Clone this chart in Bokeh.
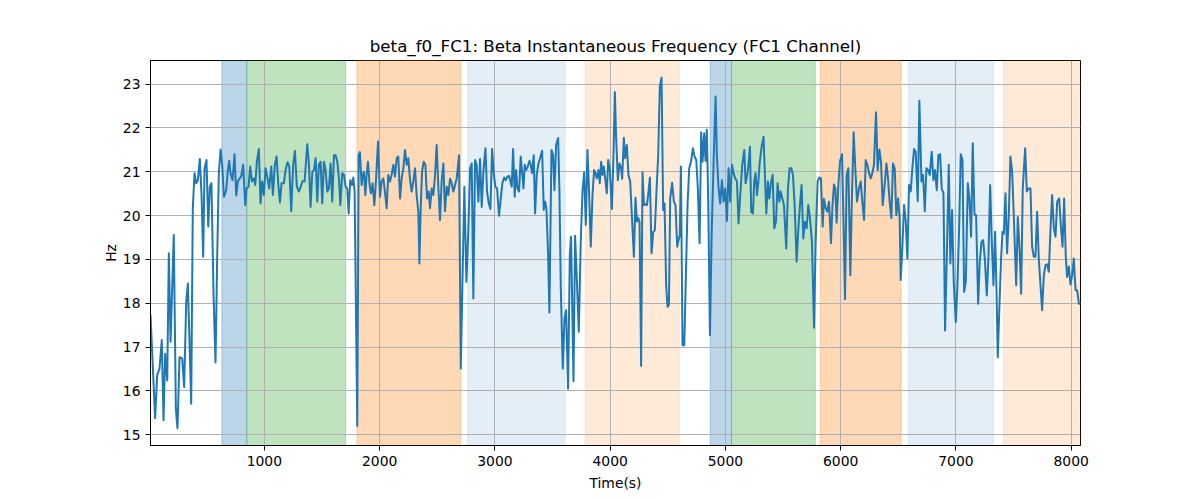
from bokeh.plotting import figure
from bokeh.models import Range1d, BoxAnnotation, FixedTicker
from bokeh.embed import file_html
from bokeh.resources import INLINE

# ---- data ----
times = [
    12, 52, 70, 90, 110, 125, 139, 157, 171, 186,
    214, 232, 246, 264, 287, 304, 322, 336, 350, 365,
    379, 394, 408, 423, 440, 455, 469, 481, 498, 513,
    527, 541, 559, 576, 591, 605, 620, 634, 649, 669,
    683, 695, 706, 724, 741, 756, 770, 785, 799, 816,
    834, 845, 863, 877, 892, 909, 921, 935, 952, 967,
    981, 996, 1010, 1025, 1042, 1060, 1074, 1091, 1106, 1120,
    1135, 1149, 1169, 1184, 1201, 1216, 1233, 1250, 1265, 1282,
    1300,
    1332, 1349, 1372, 1387, 1401, 1416, 1430, 1445, 1459, 1473,
    1488, 1502, 1517, 1531, 1546, 1560, 1575, 1589, 1604, 1618,
    1633, 1647, 1659, 1676, 1691, 1705, 1719, 1731, 1745, 1760,
    1772, 1783, 1806, 1818, 1829, 1844, 1853, 1864, 1876, 1887,
    1899, 1913, 1925, 1939, 1954, 1968, 1986, 2003, 2017, 2032,
    2046, 2061, 2075, 2090, 2104, 2119, 2133, 2148, 2162, 2177,
    2191, 2206, 2220, 2235, 2249, 2264, 2278, 2292, 2307, 2321,
    2336, 2345, 2356, 2368, 2382, 2397, 2411, 2426, 2437, 2452,
    2466, 2481, 2495, 2510, 2524, 2538, 2553, 2567, 2582, 2596,
    2611, 2625, 2640,
    2654, 2669, 2689, 2704, 2735, 2753, 2770, 2785, 2799, 2813,
    2828, 2842, 2857, 2871, 2886, 2900, 2918, 2932, 2947, 2961,
    2976, 2990, 3004, 3019, 3036, 3051, 3065, 3080, 3094, 3109,
    3123, 3138, 3146, 3158, 3172, 3184, 3196, 3210, 3224, 3236,
    3248, 3259, 3271, 3285, 3300, 3311, 3323, 3337, 3349, 3363,
    3378, 3392, 3410, 3424, 3436, 3447, 3462, 3473, 3491, 3505,
    3517, 3531, 3549, 3560, 3572, 3589, 3604, 3618, 3635, 3650,
    3661, 3682, 3696, 3714, 3728, 3745, 3760, 3774, 3789, 3803,
    3818, 3832, 3847, 3861, 3873, 3884, 3899, 3910, 3922, 3934,
    3945, 3957, 3971, 3983, 3997,
    4015, 4029, 4041, 4052, 4067, 4081, 4096, 4104, 4119, 4130,
    4145, 4159, 4174, 4191, 4206, 4220, 4232, 4243, 4255, 4269,
    4281, 4293, 4307, 4319, 4330, 4345, 4359, 4374, 4388, 4402,
    4417, 4431, 4446, 4460, 4472, 4486, 4498, 4510, 4521, 4538,
    4553, 4567, 4582, 4593, 4605, 4614, 4628, 4643, 4657, 4672,
    4686, 4701, 4718, 4732, 4747, 4761, 4776, 4790, 4802, 4816,
    4828, 4839, 4851, 4866, 4880, 4897, 4915, 4926, 4941, 4955,
    4970, 4984, 4999, 5013, 5028, 5042, 5057, 5071, 5085, 5100,
    5114, 5129, 5146, 5164, 5175, 5190, 5201, 5213, 5224, 5239,
    5250, 5262, 5274, 5285, 5297, 5314, 5331,
    5355, 5369, 5381, 5395, 5410, 5424, 5439, 5453, 5468, 5479,
    5494, 5508, 5528, 5543, 5557, 5572, 5586, 5601, 5618, 5633,
    5647, 5661, 5676, 5690, 5705, 5719, 5734, 5751, 5769, 5783,
    5800, 5815, 5829, 5844, 5855, 5870, 5884, 5899, 5916, 5928,
    5942, 5954, 5965, 5980, 5994, 6012, 6026, 6038, 6052, 6067,
    6084, 6098, 6113, 6127, 6142, 6159, 6174, 6188, 6203, 6217,
    6232, 6246, 6261, 6275, 6289, 6307, 6321, 6336, 6350, 6365,
    6379, 6397, 6411, 6425, 6440, 6454, 6469, 6483, 6498, 6512,
    6521, 6535, 6550, 6564, 6579, 6593, 6608, 6622, 6637, 6651,
    6669, 6683,
    6701, 6715, 6730, 6744, 6759, 6773, 6790, 6805, 6819, 6834,
    6848, 6863, 6877, 6892, 6906, 6924, 6938, 6952, 6967, 6981,
    6999, 7013, 7028, 7042, 7057, 7071, 7086, 7103, 7117, 7132,
    7146, 7161, 7175, 7193, 7207, 7222, 7236, 7251, 7268, 7282,
    7297, 7311, 7326, 7340, 7352, 7363, 7378, 7392, 7404, 7416,
    7430, 7444, 7459, 7473, 7488, 7502, 7523, 7537, 7552, 7566,
    7580, 7601, 7615, 7630, 7647, 7661, 7676, 7690, 7705, 7719,
    7734, 7748, 7763, 7777, 7792, 7806, 7821, 7835, 7850, 7864,
    7879, 7896, 7910, 7925, 7939, 7954, 7965, 7980, 7994, 8009,
    8023, 8038, 8052, 8067, 8081,
]

beta_freq = [
    17.73, 15.38, 16.36, 16.51, 17.16, 15.33, 16.85, 16.24, 19.14, 17.12,
    19.56, 15.59, 15.15, 16.77, 16.74, 16.09, 18.03, 18.45, 17.19, 15.71,
    20.17, 20.97, 20.74, 20.81, 21.29, 20.47, 19.06, 21.08, 21.27, 19.75,
    20.66, 20.74, 18.18, 16.65, 19.10, 20.97, 21.51, 21.16, 20.43, 20.58,
    21.04, 21.25, 20.97, 20.81, 21.40, 20.46, 20.78, 20.85, 20.89, 21.16,
    20.24, 20.62, 20.66, 21.12, 20.78, 20.85, 20.70, 21.23, 21.52, 20.28,
    20.78, 20.47, 21.08, 20.89, 20.62, 21.12, 20.47, 21.16, 21.35, 20.74,
    20.30, 20.74, 20.74, 21.04, 21.22, 21.12, 20.10, 21.16, 21.48, 20.66,
    20.55,
    20.79, 20.78, 21.63, 21.16, 20.20, 21.00, 21.04, 21.31, 20.32, 21.16,
    21.23, 20.28, 21.23, 21.04, 20.55, 20.62, 21.19, 20.32, 21.38, 21.38,
    21.23, 20.85, 20.24, 20.97, 20.93, 20.66, 20.62, 20.05, 20.81, 20.70,
    20.87, 20.55, 15.20, 21.38, 21.45, 20.70, 20.93, 21.00, 20.47, 20.93,
    21.23, 20.70, 20.51, 20.74, 20.24, 20.78, 21.69, 20.43, 20.78, 20.85,
    20.55, 20.17, 20.93, 20.78, 20.93, 21.16, 20.89, 21.31, 21.35, 20.39,
    20.85, 21.08, 21.50, 21.16, 21.31, 20.81, 20.55, 20.78, 21.08, 20.47,
    20.09, 18.91, 20.13, 21.00, 21.23, 21.16, 20.39, 20.55, 20.17, 20.62,
    20.47, 20.93, 21.61, 20.62, 19.90, 20.78, 21.19, 20.10, 20.66, 20.47,
    20.84, 20.74, 20.55,
    20.70, 20.85, 21.38, 16.51, 20.66, 18.49, 19.71, 21.08, 21.19, 18.11,
    21.27, 21.16, 20.32, 21.29, 20.20, 21.00, 21.54, 20.55, 20.28, 20.15,
    21.52, 20.97, 20.66, 20.62, 20.00, 20.39, 20.74, 20.87, 20.81, 20.89,
    20.91, 20.74, 20.66, 21.52, 20.43, 21.04, 20.62, 20.55, 21.35, 21.00,
    20.62, 21.16, 21.04, 21.12, 21.25, 21.16, 20.97, 21.38, 20.05, 20.93,
    21.19, 21.31, 21.48, 20.13, 20.32, 20.17, 19.10, 17.79, 21.50, 21.38,
    20.58, 21.61, 21.77, 20.55, 18.34, 16.51, 17.65, 17.84, 16.05, 19.10,
    19.52, 16.22, 19.54, 18.34, 17.35, 19.40, 20.55, 20.99, 19.79, 21.50,
    20.47, 19.29, 20.47, 21.04, 20.97, 20.85, 21.04, 20.74, 21.23, 20.93,
    21.12, 20.85, 20.51, 21.27, 21.04,
    20.15, 21.38, 22.82, 21.77, 20.81, 21.19, 21.08, 20.84, 21.78, 21.31,
    21.61, 20.93, 20.78, 19.86, 19.06, 20.41, 19.86, 19.95, 19.86, 16.57,
    20.99, 20.24, 20.26, 20.24, 20.47, 20.87, 19.14, 19.63, 19.67, 20.55,
    21.38, 22.95, 23.15, 20.13, 20.28, 18.41, 17.92, 17.96, 20.39, 20.75,
    20.32, 20.24, 19.29, 19.44, 19.56, 21.12, 17.04, 17.04, 18.60, 20.28,
    21.08, 21.23, 21.54, 21.35, 21.27, 20.62, 19.37, 21.90, 21.23, 21.88,
    21.25, 21.96, 20.32, 17.27, 19.48, 21.16, 22.72, 21.38, 20.62, 20.28,
    20.81, 20.32, 20.62, 19.88, 21.08, 20.32, 21.16, 20.97, 20.85, 20.79,
    19.82, 20.47, 21.16, 21.50, 20.74, 20.94, 21.17, 21.57, 20.09, 20.05,
    20.78, 20.97, 20.47, 20.74, 21.19, 21.57, 21.80,
    20.05, 20.78, 20.39, 20.74, 20.93, 19.71, 19.86, 20.74, 20.32, 20.55,
    20.39, 20.24, 19.25, 20.62, 21.08, 21.08, 20.93, 20.24, 18.95, 19.71,
    20.24, 20.70, 19.48, 19.86, 19.71, 20.24, 19.94, 19.40, 17.44, 19.40,
    20.78, 20.87, 20.85, 19.75, 20.38, 20.17, 20.09, 20.32, 19.37, 20.17,
    20.71, 20.62, 19.84, 20.70, 21.23, 21.40, 19.71, 18.09, 20.93, 21.08,
    18.64, 20.47, 21.90, 21.08, 20.32, 20.62, 20.78, 20.32, 19.90, 21.27,
    21.16, 20.97, 20.85, 20.97, 21.16, 22.36, 21.04, 21.51, 21.23, 20.24,
    20.62, 21.19, 20.85, 20.32, 19.94, 21.19, 21.08, 20.01, 20.39, 19.94,
    18.53, 19.25, 20.24, 19.90, 19.02, 20.70, 20.55, 21.08, 21.52, 21.46,
    20.33, 22.62,
    20.78, 20.93, 20.10, 21.08, 21.04, 20.93, 21.46, 20.81, 21.04, 20.58,
    21.38, 21.40, 20.62, 20.51, 17.38, 19.40, 21.16, 18.91, 20.13, 18.49,
    17.57, 18.41, 19.71, 21.40, 21.27, 18.26, 18.49, 20.74, 20.39, 19.52,
    21.65, 20.03, 20.01, 17.99, 18.95, 19.40, 19.44, 19.02, 18.18, 19.02,
    20.70, 19.44, 18.41, 19.63, 18.34, 16.77, 17.96, 19.02, 19.63, 19.59,
    20.51, 19.14, 20.01, 21.35, 21.00, 20.01, 18.41, 19.97, 19.25, 18.22,
    20.62, 21.54, 20.55, 20.62, 20.62, 19.29, 19.06, 19.06, 20.09, 19.02,
    18.41, 17.84, 18.64, 18.87, 18.89, 18.72, 19.71, 20.47, 19.71, 19.52,
    20.32, 20.39, 19.79, 19.29, 20.39, 19.02, 18.60, 18.84, 18.43, 18.64,
    19.02, 18.30, 18.30, 17.99, 17.99,
]

assert len(times) == len(beta_freq)

# shaded phases
band_start = [631, 848, 1803, 2765, 3783, 4868, 5053, 5823, 6588, 7412]
band_end = [848, 1705, 2704, 3609, 4600, 5053, 5780, 6524, 7326, 8090]
band_kind = ["blue", "green", "orange", "pale_blue", "pale_orange",
             "blue", "green", "orange", "pale_blue", "pale_orange"]

x_ticks = [1000, 2000, 3000, 4000, 5000, 6000, 7000, 8000]
y_ticks = [15, 16, 17, 18, 19, 20, 21, 22, 23]

# ---- styles ----
band_style = {
    "blue": ("#1f77b4", 0.3),
    "green": ("#2ca02c", 0.3),
    "orange": ("#ff7f0e", 0.3),
    "pale_blue": ("#1f77b4", 0.12),
    "pale_orange": ("#ff7f0e", 0.16),
}
FONT = "DejaVu Sans"

p = figure(
    frame_width=930, frame_height=385,
    min_border_left=150, min_border_right=104,
    min_border_top=60, min_border_bottom=47,
    x_range=Range1d(times[0], times[-1]),
    y_range=Range1d(14.755, 23.54),
    output_backend="svg", toolbar_location=None,
    title="beta_f0_FC1: Beta Instantaneous Frequency (FC1 Channel)",
)
p.background_fill_color = "white"
p.border_fill_color = "white"
p.outline_line_color = "black"
p.outline_line_width = 1

p.title.text_font = FONT
p.title.text_font_size = "16.7px"
p.title.text_font_style = "normal"
p.title.text_color = "black"
p.title.align = "center"

for s, e, k in zip(band_start, band_end, band_kind):
    c, a = band_style[k]
    p.add_layout(BoxAnnotation(left=s, right=e, fill_color=c, fill_alpha=a,
                               line_color=c, line_alpha=a, line_width=1,
                               level="image"))

p.line(times, beta_freq, line_color="#1f77b4", line_width=2, line_join="round")

p.xaxis.ticker = FixedTicker(ticks=x_ticks)
p.yaxis.ticker = FixedTicker(ticks=y_ticks)
p.xaxis.axis_label = "Time(s)"
p.yaxis.axis_label = "Hz"
for ax in (p.xaxis, p.yaxis):
    ax.axis_label_text_font = FONT
    ax.axis_label_text_font_size = "13.9px"
    ax.axis_label_text_font_style = "normal"
    ax.axis_label_text_color = "black"
    ax.major_label_text_font = FONT
    ax.major_label_text_font_size = "13.9px"
    ax.major_label_text_color = "black"
    ax.axis_line_color = "black"
    ax.major_tick_line_color = "black"
    ax.major_tick_in = 0
    ax.major_tick_out = 5
    ax.minor_tick_line_color = None
    ax.major_label_standoff = 5
p.xaxis.axis_label_standoff = 6
p.yaxis.axis_label_standoff = 1

p.grid.grid_line_color = "#b0b0b0"
p.grid.grid_line_width = 1

open("out.html", "w").write(file_html(p, INLINE))
